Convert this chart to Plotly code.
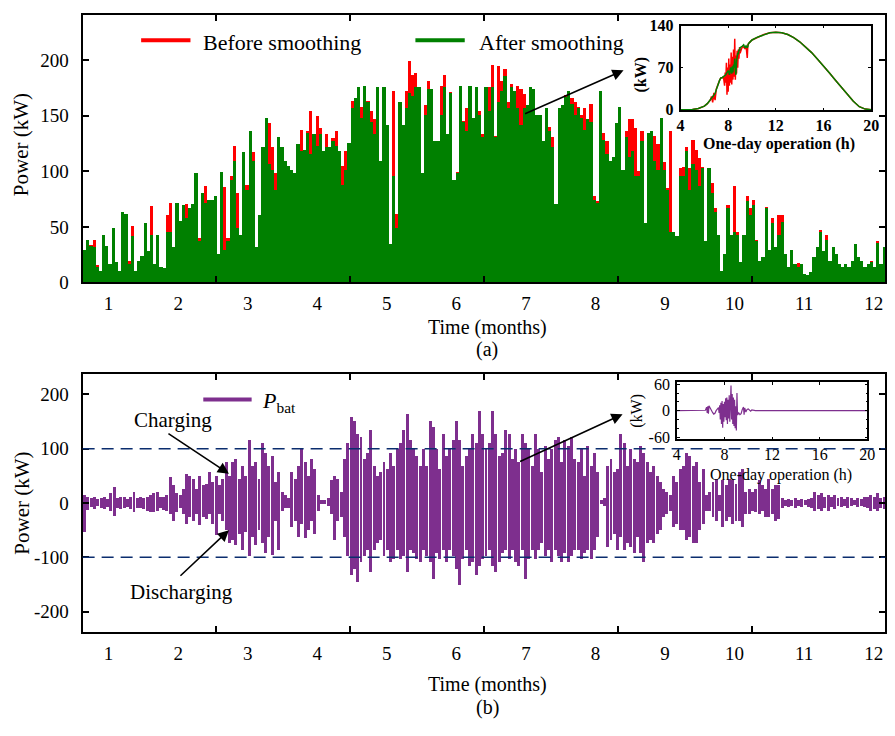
"""PV power before/after smoothing and battery power over one year, with one-day insets."""
import numpy as np
import plotly.graph_objects as go

FONT = "Liberation Serif"
W, H = 895, 736

# ---- data -------------------------------------------------------------------
MONTHS = list(range(1, 13))
MONTH_LO, MONTH_HI = 0.627, 12.167   # visible span of the time axis (months)

# (a) PV power peaks, kW, sampled every ~3 px along the year
pv_before = [
    30, 39, 34, 39, 16, 11, 43, 33, 17, 49, 19, 11, 64, 62, 20, 51, 11, 20, 24, 54,
    29, 69, 17, 43, 14, 13, 61, 72, 32, 72, 56, 70, 71, 67, 71, 99, 40, 81, 87, 75,
    75, 78, 26, 100, 86, 40, 96, 123, 81, 43, 118, 88, 137, 118, 32, 61, 122, 148, 144, 122,
    99, 131, 122, 110, 105, 102,
    99, 125, 138, 120, 137, 155, 134, 150, 139, 119, 134, 122, 130, 137, 119, 105, 119, 126, 164, 166,
    176, 158, 177, 164, 155, 147, 176, 110, 176, 142, 35, 173, 62, 163, 142, 173, 200, 187, 189, 176,
    99, 160, 182, 174, 128, 128, 177, 187, 134, 172, 93, 100, 177, 146, 157, 177, 148, 176, 155, 134,
    176, 176, 196,
    132, 195, 182, 192, 163, 179, 173, 177, 174, 170, 160, 176, 174, 151, 151, 128, 157, 140, 131, 71,
    157, 160, 169, 173, 166, 163, 158, 151, 157, 147, 161, 78, 74, 173, 135, 128, 110, 113, 144, 158,
    102, 137, 147, 147, 139, 101, 137, 54, 135, 137, 132, 125, 148, 109, 85, 137, 46, 42, 103, 104,
    122,
    103, 129, 120, 112, 104, 38, 103, 90, 67, 43, 11, 26, 70, 43, 87, 46, 19, 43, 78, 67,
    75, 39, 20, 23, 68, 30, 58, 32, 61, 61, 26, 14, 30, 17, 18, 17, 8, 7, 10, 23,
    32, 48, 29, 43, 20, 32, 26, 17, 14, 17, 14, 20, 35, 23, 20, 14, 17, 20, 14, 38,
    17, 32,
]
pv_after = [
    30, 39, 33, 32, 14, 11, 43, 33, 17, 49, 19, 11, 64, 62, 17, 42, 11, 20, 24, 54,
    29, 43, 17, 43, 14, 13, 46, 46, 32, 72, 56, 70, 58, 67, 71, 99, 38, 81, 72, 75,
    75, 78, 26, 100, 30, 38, 93, 110, 49, 43, 118, 84, 137, 110, 32, 61, 122, 148, 107, 102,
    84, 131, 122, 110, 105, 102,
    99, 125, 119, 120, 135, 116, 134, 123, 134, 119, 122, 122, 128, 123, 119, 88, 102, 126, 157, 166,
    176, 148, 177, 163, 145, 134, 176, 110, 176, 142, 35, 96, 49, 163, 142, 157, 171, 168, 176, 176,
    99, 151, 174, 174, 128, 128, 151, 176, 134, 171, 93, 99, 177, 145, 137, 177, 148, 176, 151, 131,
    176, 155, 176,
    131, 163, 173, 186, 157, 176, 173, 157, 142, 157, 160, 176, 174, 151, 151, 128, 157, 137, 122, 71,
    157, 160, 167, 173, 161, 151, 157, 148, 138, 147, 145, 75, 72, 173, 129, 116, 110, 113, 144, 158,
    102, 131, 113, 119, 96, 96, 128, 54, 135, 137, 110, 102, 148, 102, 84, 46, 46, 42, 96, 96,
    119,
    84, 107, 102, 87, 103, 38, 103, 81, 64, 43, 11, 26, 67, 43, 46, 43, 19, 43, 74, 61,
    70, 38, 20, 23, 67, 30, 54, 32, 43, 55, 26, 14, 30, 17, 14, 17, 8, 7, 10, 23,
    32, 46, 29, 39, 20, 32, 26, 17, 14, 17, 14, 20, 35, 23, 20, 14, 17, 19, 14, 36,
    17, 32,
]

# (b) battery power, upper / lower swing per sample, kW
bat_high = [
    14, 11, 8, 10, 7, 8, 11, 7, 17, 29, 8, 11, 11, 7, 10, 20, 8, 10, 8, 11,
    14, 17, 20, 10, 11, 14, 47, 32, 17, 14, 26, 53, 50, 44, 26, 50, 32, 35, 56, 38,
    50, 32, 44, 74, 50, 74, 80, 44, 68, 50, 115, 68, 74, 44, 110, 92, 68, 86, 38, 56,
    20, 14,
    8, 56, 44, 68, 100, 74, 50, 80, 62, 14, 5, 5, 8, 41, 50, 44, 20, 80, 110, 157,
    151, 127, 121, 80, 92, 133, 68, 50, 56, 74, 62, 92, 68, 98, 110, 133, 163, 115, 98, 86,
    68, 98, 68, 151, 139, 98, 62, 127, 86, 98, 115, 151, 115, 68, 86, 98, 127, 110, 169, 127,
    98, 110, 169, 127, 86, 92, 133, 127, 80, 98, 74, 127, 110, 98, 68, 127, 98, 56, 104, 80,
    98, 115, 121, 74, 115, 104, 121, 80, 74, 98, 50, 104, 68, 92, 56, 5, 8, 68, 80, 56,
    62, 127, 110, 68, 98, 80, 74, 104, 92, 74, 56, 68, 50, 38, 26, 20, 14, 50, 38, 62,
    68, 92, 86, 68, 74, 38, 62, 14, 20, 38, 44, 14, 41, 32, 44, 41, 35, 56, 62, 20,
    26, 20, 26, 41, 32, 26, 44, 26, 32, 32, 8, 5, 7, 5, 8, 5, 7, 5, 7, 8,
    20, 14, 17, 11, 15, 10, 14, 8, 11, 7, 10, 8, 5, 8, 7, 10, 11, 14, 11, 17,
    8, 11,
]
bat_low = [
    -54, -13, -8, -11, -7, -10, -11, -8, -15, -24, -10, -11, -10, -8, -11, -18, -10, -10, -11, -15,
    -17, -18, -15, -10, -13, -15, -21, -33, -18, -10, -21, -39, -27, -33, -21, -42, -27, -30, -21, -39,
    -60, -21, -33, -51, -75, -69, -78, -57, -87, -54, -99, -63, -78, -51, -75, -93, -63, -96, -33, -87,
    -15, -10,
    -9, -45, -33, -63, -39, -66, -51, -33, -57, -15, -3, -3, -6, -21, -69, -33, -27, -63, -98, -134,
    -122, -146, -110, -98, -87, -128, -87, -75, -69, -98, -87, -110, -104, -87, -104, -98, -128, -87, -93, -104,
    -110, -87, -98, -110, -140, -93, -104, -87, -110, -87, -98, -122, -152, -104, -87, -116, -110, -134, -116, -104,
    -98, -87, -116, -128, -110, -93, -87, -104, -87, -110, -116, -87, -140, -104, -87, -104, -87, -75, -98, -87,
    -110, -87, -98, -110, -93, -110, -98, -87, -87, -104, -93, -87, -104, -87, -63, -3, -6, -81, -69, -57,
    -87, -63, -87, -75, -81, -93, -63, -93, -110, -75, -69, -75, -57, -51, -27, -21, -15, -45, -39, -51,
    -51, -69, -63, -75, -75, -51, -39, -15, -15, -27, -33, -15, -45, -33, -27, -39, -33, -33, -45, -21,
    -21, -15, -18, -21, -15, -27, -27, -21, -33, -30, -9, -6, -8, -6, -9, -6, -8, -4, -8, -9,
    -15, -12, -15, -9, -15, -8, -12, -6, -8, -6, -9, -6, -4, -8, -6, -8, -9, -15, -12, -15,
    -9, -12,
]

# insets: one-day operation
day_pv_hours = [
    4.0, 4.5, 5.0, 5.5, 6.0, 6.25, 6.5, 6.6, 6.7, 6.8, 6.9, 7.0, 7.1, 7.2, 7.3, 7.4, 7.5, 7.6,
    7.7, 7.75, 7.8, 7.85, 7.9, 7.95, 8.0, 8.05, 8.1, 8.15, 8.2, 8.25, 8.3, 8.35, 8.4, 8.45,
    8.5, 8.55, 8.6, 8.65, 8.7, 8.75, 8.8, 8.85, 8.9, 8.95, 9.0, 9.1, 9.2, 9.3, 9.4, 9.5,
    9.6, 9.65, 9.7, 9.8, 10.0, 10.5, 11.0, 11.5, 12.0, 12.5, 13.0, 13.5, 14.0, 14.5, 15.0,
    15.5, 16.0, 16.5, 17.0, 17.5, 18.0, 18.5, 19.0, 19.5, 20.0,
]
day_pv_before = [
    0, 0, 0.5, 2, 6, 10, 16, 22, 12, 28, 16, 34, 40, 46, 50, 53, 53, 55,
    40, 62, 45, 78, 25, 70, 30, 85, 40, 75, 45, 95, 42, 88, 50, 100,
    55, 118, 50, 90, 60, 98, 70, 100, 85, 104, 94, 100, 105, 104, 102, 106,
    86, 108, 110, 112, 116, 121, 125, 128, 129, 128, 125, 120, 113, 104, 95,
    84, 73, 61, 49, 37, 25, 14, 5, 1, 0,
]
day_pv_after = [
    0, 0, 0.5, 2, 6, 10, 16, 19, 21, 24, 27, 33, 40, 46, 50, 53, 53, 55,
    56, 57, 58, 60, 62, 63, 65, 63, 58, 62, 70, 68, 60, 72, 62, 75,
    70, 85, 66, 58, 80, 90, 95, 92, 100, 98, 103, 104, 106, 108, 103, 106,
    103, 105, 110, 112, 116, 121, 125, 128, 129, 128, 125, 120, 113, 104, 95,
    84, 73, 61, 49, 37, 25, 14, 5, 1, 0,
]
day_bat_hours = [
    4.0, 6.3, 6.4, 6.5, 6.55, 6.6, 6.65, 6.7, 6.8, 6.9, 7.0, 7.1, 7.2, 7.3, 7.4, 7.5, 7.55,
    7.6, 7.65, 7.7, 7.75, 7.8, 7.85, 7.9, 7.95, 8.0, 8.05, 8.1, 8.15, 8.2, 8.25, 8.3, 8.35,
    8.4, 8.45, 8.5, 8.55, 8.6, 8.65, 8.7, 8.75, 8.8, 8.85, 8.9, 8.95, 9.0, 9.05, 9.1, 9.2,
    9.3, 9.4, 9.5, 9.6, 9.65, 9.7, 9.8, 9.9, 10.0, 10.1, 10.2, 10.3, 10.4, 10.6, 20.0,
]
day_bat = [
    0, 0, 1, 8, -5, 10, -7, 11, 5, 2, -4, -8, -6, 0, 5, 7, -5,
    12, -20, 18, -30, 22, -39, 15, -25, 20, -15, 28, -22, 30, -30, 25, -18,
    35, -25, 45, 57, -20, 38, -30, 30, -35, 25, -40, 10, -45, 40, -10, -5,
    -9, -7, 3, 8, -9, 6, -3, 3, 4, 2, -1, 1.5, 0.5, 0, 0,
]

# ---- helpers ----------------------------------------------------------------
def px(x):
    return x / W


def py(y):
    return 1 - y / H


RED, GREEN, PURPLE, NAVY = "#FF0000", "#008000", "#7E2F8E", "#0B2D6E"

fig = go.Figure()

# (a) bars: red first, green overlaid
n_pv = len(pv_after)
pv_step = (MONTH_HI - MONTH_LO) / n_pv
pv_x = MONTH_LO + (np.arange(n_pv) + 0.5) * pv_step
fig.add_trace(go.Bar(x=pv_x, y=pv_before, width=pv_step, marker_color=RED,
                     marker_line_width=0, xaxis="x", yaxis="y", showlegend=False))
fig.add_trace(go.Bar(x=pv_x, y=pv_after, width=pv_step, marker_color=GREEN,
                     marker_line_width=0, xaxis="x", yaxis="y", showlegend=False))

# (b) battery power: one vertical swing per sample
n_bat = len(bat_high)
bat_step = (MONTH_HI - MONTH_LO) / n_bat
bat_x = MONTH_LO + (np.arange(n_bat) + 0.5) * bat_step
bat_span = np.array(bat_high) - np.array(bat_low)
fig.add_trace(go.Bar(x=bat_x, y=bat_span, base=bat_low, width=bat_step * 0.9,
                     marker_color=PURPLE, marker_line_width=0,
                     xaxis="x2", yaxis="y2", showlegend=False))

# insets
fig.add_trace(go.Scatter(x=day_pv_hours, y=day_pv_before, mode="lines",
                         line=dict(color=RED, width=1.5), xaxis="x3", yaxis="y3", showlegend=False))
fig.add_trace(go.Scatter(x=day_pv_hours, y=day_pv_after, mode="lines",
                         line=dict(color=GREEN, width=1.5), xaxis="x3", yaxis="y3", showlegend=False))
fig.add_trace(go.Scatter(x=day_bat_hours, y=day_bat, mode="lines",
                         line=dict(color=PURPLE, width=1.2), xaxis="x4", yaxis="y4", showlegend=False))

# ---- axes -------------------------------------------------------------------
tick_font = dict(family=FONT, size=19, color="black")
minor_marks = [MONTH_LO + k * (MONTH_HI - MONTH_LO) / 6 for k in range(1, 6)]
main_x = dict(
    range=[MONTH_LO, MONTH_HI], tickvals=MONTHS, ticktext=[str(m) for m in MONTHS],
    ticks="inside", ticklen=0, showline=True, linewidth=2, linecolor="black",
    mirror="ticks", showgrid=False, zeroline=False, tickfont=tick_font,
    ticklabelstandoff=3,
    minor=dict(tickvals=minor_marks, ticks="inside", ticklen=6, tickwidth=1.5,
               tickcolor="black", showgrid=False),
)
main_y = dict(
    ticks="inside", ticklen=6, tickwidth=1.5, tickcolor="black", showline=True,
    linewidth=2, linecolor="black", mirror="ticks", showgrid=False, zeroline=False,
    tickfont=tick_font, ticklabelstandoff=8,
)
dom_x = [79.7 / W, 893.3 / W]

inset_bold = dict(family=FONT, size=16, color="black", weight="bold")
inset_reg = dict(family=FONT, size=16, color="black")
inset_axis = dict(showline=True, linewidth=1.5, linecolor="black", mirror="ticks",
                  showgrid=False, zeroline=False, ticks="inside", ticklen=3,
                  tickcolor="black", ticklabelstandoff=2)

fig.update_layout(
    width=W, height=H, autosize=False,
    margin=dict(l=0, r=0, t=0, b=0),
    paper_bgcolor="white", plot_bgcolor="white",
    barmode="overlay", bargap=0,
    font=dict(family=FONT, color="black"),
    xaxis=dict(main_x, domain=dom_x, anchor="y"),
    yaxis=dict(main_y, domain=[py(281.7), py(6.7)], anchor="x", range=[0, 241],
               tickvals=[0, 50, 100, 150, 200]),
    xaxis2=dict(main_x, domain=dom_x, anchor="y2"),
    yaxis2=dict(main_y, domain=[py(640.7), py(376)], anchor="x2", range=[-238, 237],
                tickvals=[-200, -100, 0, 100, 200],
                ticktext=["-200", "-100", "0", "100", "200"]),
    xaxis3=dict(inset_axis, domain=[px(685.7), px(879)], anchor="y3", range=[4, 20],
                tickvals=[4, 8, 12, 16, 20], tickfont=inset_bold, ticklabelstandoff=0),
    yaxis3=dict(inset_axis, domain=[py(105), py(18)], anchor="x3", range=[-1, 140],
                tickvals=[0, 70, 140], tickfont=inset_bold),
    xaxis4=dict(inset_axis, domain=[px(682), px(875)], anchor="y4", range=[4, 20],
                tickvals=[4, 8, 12, 16, 20], tickfont=inset_reg, ticklabelstandoff=0),
    yaxis4=dict(inset_axis, domain=[py(442.7), py(384)], anchor="x4", range=[-65, 65],
                tickvals=[-60, 0, 60], ticktext=["-60", "0", "60"], tickfont=inset_reg,
                minor=dict(dtick=20, tick0=0, ticks="inside", ticklen=2, tickcolor="black")),
)

# ---- dashed limits in (b) ---------------------------------------------------
for lim in (100, -100):
    fig.add_shape(type="line", xref="x2 domain", yref="y2", x0=0, x1=1, y0=lim, y1=lim,
                  line=dict(color=NAVY, width=1.5, dash="12px,7px"))

# ---- legends (drawn by hand) -----------------------------------------------
def legend_line(x0, x1, y, color):
    fig.add_shape(type="line", xref="paper", yref="paper", x0=px(x0), x1=px(x1),
                  y0=py(y), y1=py(y), line=dict(color=color, width=4))


legend_line(139, 189, 33, RED)
legend_line(417, 467, 33, GREEN)
legend_line(202, 251, 402, PURPLE)

annotations = []


def text(x, y, s, size=21, angle=0, xanchor="center", bold=False):
    annotations.append(dict(
        x=px(x), y=py(y), xref="paper", yref="paper", text=s, showarrow=False,
        xanchor=xanchor, yanchor="middle", textangle=angle,
        font=dict(family=FONT, size=size, color="black",
                  weight="bold" if bold else "normal"),
    ))


def arrow(x_head, y_head, x_tail, y_tail):
    annotations.append(dict(
        x=px(x_head), y=py(y_head), xref="paper", yref="paper", text="",
        showarrow=True, ax=x_tail - x_head, ay=y_tail - y_head,
        arrowhead=2, arrowsize=1.4, arrowwidth=1.6, arrowcolor="black",
    ))


text(200, 35, "Before smoothing", size=22, xanchor="left")
text(479, 35, "After smoothing", size=22, xanchor="left")
text(259, 404, "<i>P</i><sub>bat</sub>", size=22, xanchor="left")

text(18, 140, "Power (kW)", angle=-90)
text(18, 508, "Power (kW)", angle=-90)
text(490, 328, "Time (months)", size=20)
text(490, 694, "Time (months)", size=20)
text(490, 351, "(a)", size=20)
text(490, 718, "(b)", size=20)

text(646, 68, "(kW)", size=16, angle=-90, bold=True)
text(786, 140, "One-day operation (h)", size=16, bold=True)
text(642, 413, "(kW)", size=16, angle=-90)
text(788, 479, "One-day operation (h)", size=16)

text(171, 423, "Charging", size=21)
text(180, 599, "Discharging", size=21)

arrow(628, 64, 528, 108)
arrow(627, 417, 523, 465)
arrow(228, 478, 166, 437)
arrow(228, 536, 178, 583)

fig.update_layout(annotations=annotations)

fig.write_html(
    "out.html",
    config={"displayModeBar": False},
    post_script="document.body.style.margin = '0';"
                "document.documentElement.style.overflow = 'hidden';",
)
